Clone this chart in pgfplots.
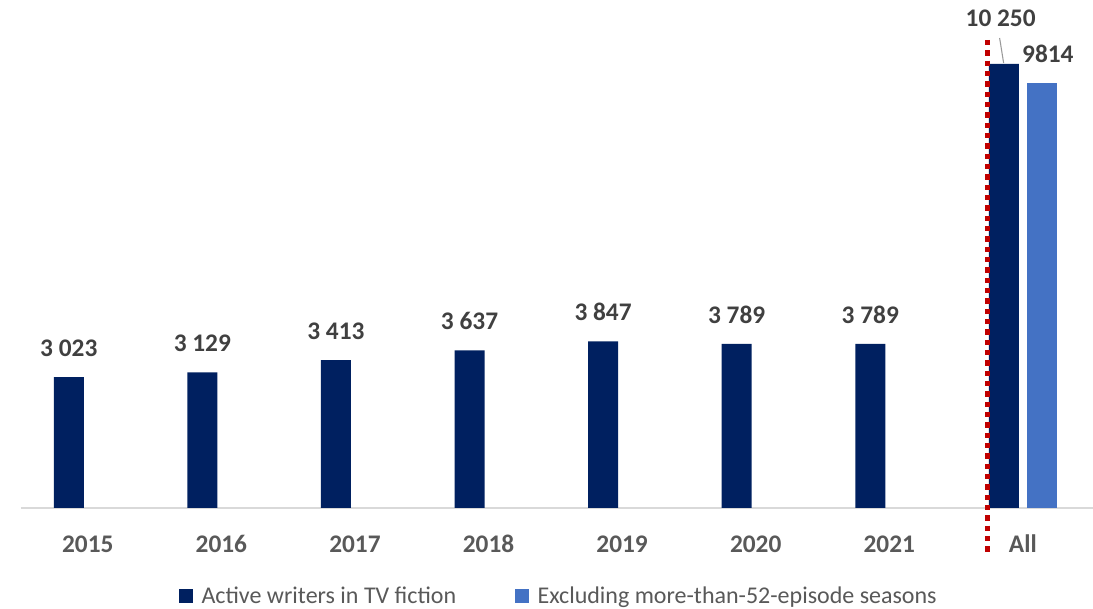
\documentclass[border=0pt]{standalone}
\usepackage{fontspec}
\setmainfont{Carlito}
\usepackage{pgfplots}
\pgfplotsset{compat=1.18}
\definecolor{navy}{HTML}{002060}
\definecolor{lblue}{HTML}{4472C4}
\definecolor{lbl}{HTML}{404040}
\definecolor{tck}{HTML}{595959}
\definecolor{dred}{HTML}{C00000}
\begin{document}
\begin{tikzpicture}
\useasboundingbox (0,0) rectangle (819.75pt,456.75pt);
\begin{axis}[
  at={(15.75pt,75.75pt)}, anchor=south west,
  scale only axis, width=804pt, height=381pt,
  ybar=6pt, bar width=22.5pt,
  xmin=-0.5, xmax=7.525, ymin=0, ymax=11724,
  axis y line=none, axis x line*=bottom,
  axis line style={-, draw=black!15, line width=1.1pt},
  xtick={0,...,7}, xtick style={draw=none},
  xticklabels={2015,2016,2017,2018,2019,2020,2021,All},
  xticklabel style={font=\fontsize{19}{19}\selectfont\bfseries, text=tck, anchor=base, inner sep=0pt, yshift=-29pt},
  /pgf/number format/assume math mode=true,
  clip=false,
  point meta=explicit symbolic,
  nodes near coords,
  nodes near coords style={font=\fontsize{19}{19}\selectfont\bfseries, text=lbl, anchor=south, inner sep=0pt, yshift=15pt},
  legend columns=2,
  legend style={at={(0.502,0)}, anchor=north, yshift=-57pt, draw=none, inner sep=0pt, outer sep=0pt,
    font=\fontsize{18}{18}\selectfont, text=tck,
    /tikz/every odd column/.append style={column sep=4.5pt},
    /tikz/every even column/.append style={column sep=42pt}},
  legend image code/.code={\fill[#1] (0pt,-5.25pt) rectangle (10.5pt,5.25pt);},
]
\addplot[fill=navy, draw=none] coordinates {
  (0,3023) [3 023]
  (1,3129) [3 129]
  (2,3413) [3 413]
  (3,3637) [3 637]
  (4,3847) [3 847]
  (5,3789) [3 789]
  (6,3789) [3 789]
  (7,10250) [\mbox{}]
};
\addplot[fill=lblue, draw=none, nodes near coords style={xshift=4.5pt}] coordinates {
  (7,9814) [9814]
};
\addplot[dred, line width=3.5pt, dash pattern=on 4pt off 3.75pt, forget plot, nodes near coords={}, sharp plot] coordinates {
  (6.737,10801) (6.737,-1038)
};
\addplot[black!40, line width=0.8pt, forget plot, nodes near coords={}, sharp plot] coordinates {
  (6.826,10847) (6.856,10270)
};
\node[font=\fontsize{19}{19}\selectfont\bfseries, text=lbl, anchor=base, inner sep=0pt] at (axis cs:6.834,11101) {10 250};
\legend{Active writers in TV fiction, Excluding more-than-52-episode seasons}
\end{axis}
\end{tikzpicture}
\end{document}
